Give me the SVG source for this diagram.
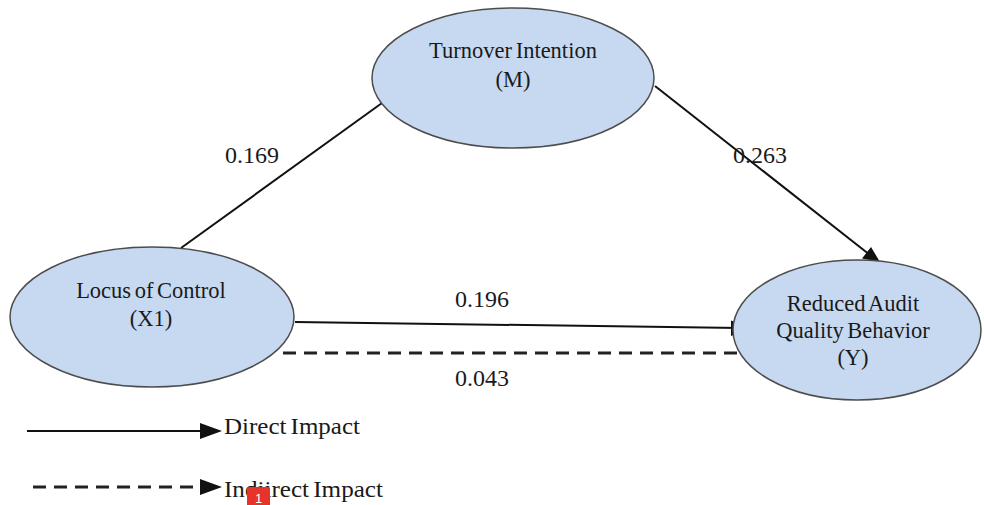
<svg xmlns="http://www.w3.org/2000/svg" width="984" height="505" viewBox="0 0 984 505">
<defs>
<style>
.node ellipse{fill:#c6d9f1;stroke:#4d4d4d;stroke-width:1.5}
.lbl{font-family:"Liberation Serif","Times New Roman",serif;font-size:22.5px;fill:#1a1a1a;text-anchor:middle;word-spacing:-2px}
.num{font-family:"Liberation Serif","Times New Roman",serif;font-size:24px;fill:#1a1a1a}
.leg{font-family:"Liberation Serif","Times New Roman",serif;font-size:24px;fill:#1a1a1a;word-spacing:-2px}
.solid{stroke:#111;stroke-width:2;fill:none}
.dash{stroke:#222;stroke-width:3;fill:none;stroke-dasharray:13 8}
</style>
</defs>
<rect width="984" height="505" fill="#fff"/>
<g id="connectors">
<line class="solid" x1="181" y1="248" x2="382" y2="103"/>
<line class="solid" x1="655" y1="86" x2="870" y2="255"/>
<path d="M880,262 L862,258.5 L871,247 z" fill="#111"/>
<line class="solid" x1="295" y1="322" x2="740" y2="328"/>
<path d="M752,328.2 L731,320.5 L731,336 z" fill="#111"/>
<line class="dash" x1="283" y1="353" x2="742" y2="353"/>
</g>
<g id="node-M" class="node">
<ellipse cx="513" cy="78" rx="141" ry="70"/>
<text class="lbl" x="513" y="58">Turnover Intention</text>
<text class="lbl" x="513" y="87">(M)</text>
</g>
<g id="node-X1" class="node">
<ellipse cx="152" cy="317" rx="142" ry="70"/>
<text class="lbl" x="151" y="298">Locus of Control</text>
<text class="lbl" x="151" y="326">(X1)</text>
</g>
<g id="node-Y" class="node">
<ellipse cx="857" cy="330" rx="124" ry="70"/>
<text class="lbl" x="853" y="311">Reduced Audit</text>
<text class="lbl" x="853" y="338">Quality Behavior</text>
<text class="lbl" x="853" y="365">(Y)</text>
</g>
<g id="edge-labels">
<text class="num" x="225" y="163">0.169</text>
<text class="num" x="733" y="163">0.263</text>
<text class="num" x="455" y="307">0.196</text>
<text class="num" x="455" y="386">0.043</text>
</g>
<g id="legend">
<line class="solid" x1="27" y1="431" x2="202" y2="431"/>
<path d="M222,431 L200,423 L200,439 z" fill="#111"/>
<text class="leg" x="224" y="434" textLength="136" lengthAdjust="spacingAndGlyphs">Direct Impact</text>
<line class="dash" x1="33" y1="487" x2="202" y2="487" stroke-width="2.5"/>
<path d="M222,487 L200,479 L200,495 z" fill="#111"/>
<text class="leg" x="224" y="497" textLength="159" lengthAdjust="spacingAndGlyphs">Indiirect Impact</text>
<rect x="247" y="487" width="23" height="20" rx="2" fill="#e8332b"/>
<text x="258.5" y="503" font-family="Liberation Sans, Arial, sans-serif" font-size="13" fill="#fff" text-anchor="middle">1</text>
</g>
</svg>
